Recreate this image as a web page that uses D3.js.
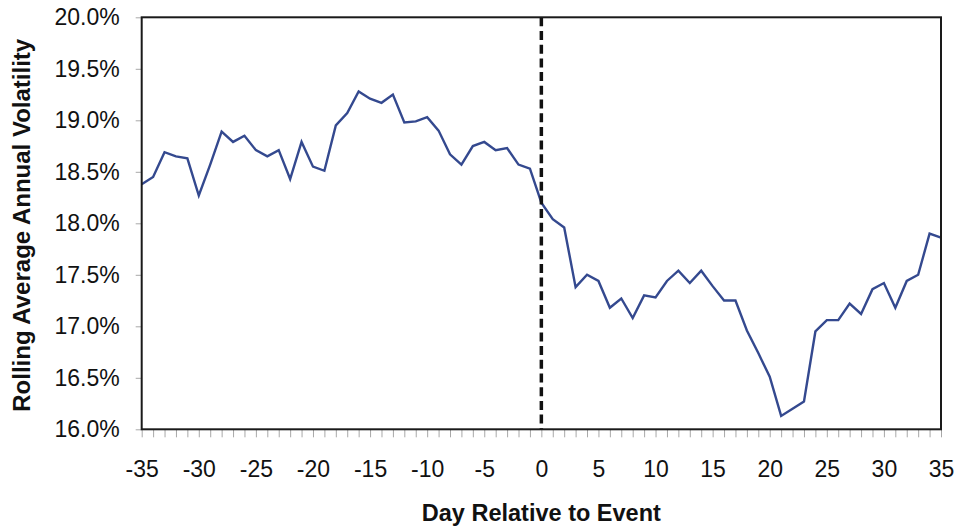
<!DOCTYPE html>
<html>
<head>
<meta charset="utf-8">
<script src="https://cdn.jsdelivr.net/npm/d3@7"></script>
<style>
  html, body { margin: 0; padding: 0; background: #fff; }
  svg { display: block; font-family: "Liberation Sans", Arial, sans-serif; }
</style>
</head>
<body>
<svg id="chart" width="961" height="531"></svg>
<script>
const days = d3.range(-35, 36);
const volatility = [
  18.38, 18.45, 18.69, 18.65, 18.63, 18.27, 18.57, 18.89, 18.79, 18.85,
  18.71, 18.65, 18.71, 18.43, 18.79, 18.55, 18.51, 18.95, 19.07, 19.28,
  19.21, 19.17, 19.25, 18.98, 18.99, 19.03, 18.90, 18.67, 18.57, 18.75,
  18.79, 18.71, 18.73, 18.57, 18.53, 18.20, 18.04, 17.96, 17.38, 17.50,
  17.44, 17.18, 17.27, 17.08, 17.30, 17.28, 17.44, 17.54, 17.42, 17.54,
  17.39, 17.25, 17.25, 16.96, 16.74, 16.51, 16.13, 16.20, 16.27, 16.95,
  17.06, 17.06, 17.22, 17.12, 17.36, 17.42, 17.18, 17.44, 17.50, 17.90,
  17.86
];
const yTicks = [16.0, 16.5, 17.0, 17.5, 18.0, 18.5, 19.0, 19.5, 20.0];
const xLabelTicks = [-35, -30, -25, -20, -15, -10, -5, 0, 5, 10, 15, 20, 25, 30, 35];
const eventDay = 0;

const svg = d3.select("#chart");
const margin = { left: 141.7, right: 20, top: 17.3, bottom: 101.7 };
const W = 961, H = 531;
const x = d3.scaleLinear().domain([-35, 35]).range([margin.left, W - margin.right]);
const y = d3.scaleLinear().domain([16, 20]).range([H - margin.bottom, margin.top]);

// x axis (ticks every day, labels every 5)
const xAxis = svg.append("g")
  .attr("transform", `translate(0,${y(16)})`)
  .call(d3.axisBottom(x).tickValues(days).tickSize(8).tickPadding(23)
    .tickFormat(d => xLabelTicks.includes(d) ? String(d) : ""));
xAxis.select(".domain").remove();
xAxis.selectAll(".tick line").attr("stroke", "#a8a8a8").attr("stroke-width", 1);
xAxis.selectAll(".tick text").attr("font-size", 23).attr("fill", "#111")
  .attr("font-family", "Liberation Sans, Arial, sans-serif");

// y axis
const yAxis = svg.append("g")
  .attr("transform", `translate(${x(-35)},0)`)
  .call(d3.axisLeft(y).tickValues(yTicks).tickSize(6).tickPadding(16)
    .tickFormat(d => d.toFixed(1) + "%"));
yAxis.select(".domain").remove();
yAxis.selectAll(".tick line").attr("stroke", "#a8a8a8").attr("stroke-width", 1);
yAxis.selectAll(".tick text").attr("font-size", 23).attr("fill", "#111")
  .attr("font-family", "Liberation Sans, Arial, sans-serif");

// line
const line = d3.line().x((d, i) => x(days[i])).y(d => y(d));
svg.append("path")
  .datum(volatility)
  .attr("fill", "none")
  .attr("stroke", "#34498f")
  .attr("stroke-width", 2.4)
  .attr("stroke-linejoin", "miter")
  .attr("d", line);

// event dashed line
svg.append("line")
  .attr("x1", x(eventDay)).attr("x2", x(eventDay))
  .attr("y1", y(20)).attr("y2", y(16))
  .attr("stroke", "#111")
  .attr("stroke-width", 3.5)
  .attr("stroke-dasharray", "9,4.7");

// frame
svg.append("rect")
  .attr("x", x(-35)).attr("y", y(20))
  .attr("width", x(35) - x(-35)).attr("height", y(16) - y(20))
  .attr("fill", "none").attr("stroke", "#1a1a1a").attr("stroke-width", 2);

// axis titles
svg.append("text")
  .attr("x", (x(-35) + x(35)) / 2).attr("y", 521)
  .attr("text-anchor", "middle")
  .attr("font-size", 23.5).attr("font-weight", "bold").attr("fill", "#111")
  .text("Day Relative to Event");

svg.append("text")
  .attr("transform", `translate(30,${(y(16) + y(20)) / 2 + 2}) rotate(-90)`)
  .attr("text-anchor", "middle")
  .attr("font-size", 24).attr("font-weight", "bold").attr("fill", "#111")
  .text("Rolling Average Annual Volatility");
</script>
</body>
</html>
